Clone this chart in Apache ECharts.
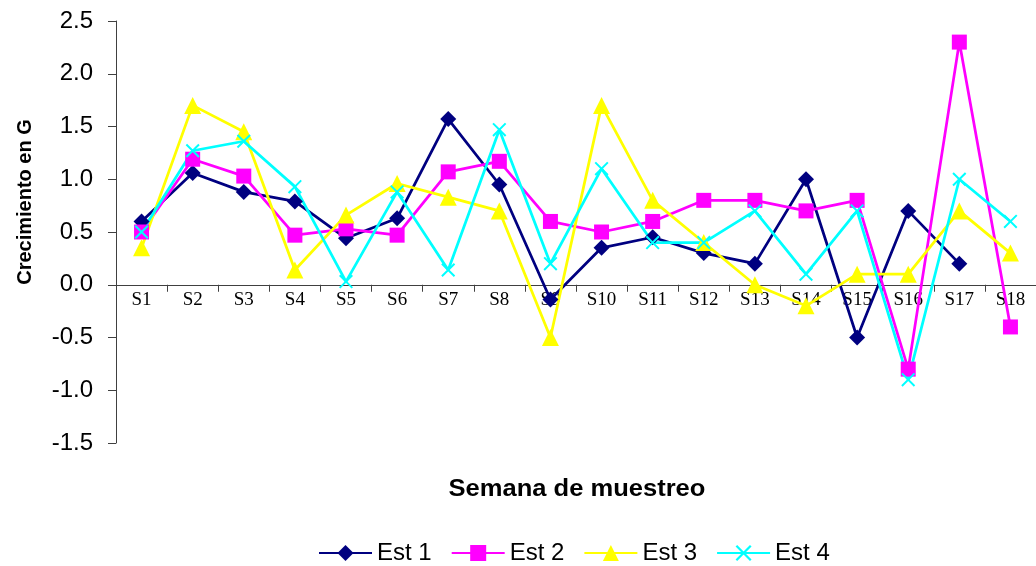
<!DOCTYPE html>
<html>
<head>
<meta charset="utf-8">
<script src="https://cdn.jsdelivr.net/npm/echarts@6/dist/echarts.min.js"></script>
<style>
html,body{margin:0;padding:0;background:#fff;}
#chart{width:1036px;height:566px;}
</style>
</head>
<body>
<div id="chart"></div>
<script>
var categories = ['S1','S2','S3','S4','S5','S6','S7','S8','S9','S10','S11','S12','S13','S14','S15','S16','S17','S18'];
var est1 = [0.6, 1.06, 0.88, 0.79, 0.44, 0.63, 1.57, 0.95, -0.14, 0.35, 0.45, 0.3, 0.2, 1.0, -0.5, 0.7, 0.2, null];
var est2 = [0.5, 1.19, 1.03, 0.47, 0.53, 0.47, 1.07, 1.17, 0.6, 0.5, 0.6, 0.8, 0.8, 0.7, 0.8, -0.8, 2.3, -0.4];
var est3 = [0.35, 1.7, 1.45, 0.14, 0.66, 0.96, 0.83, 0.7, -0.5, 1.7, 0.8, 0.4, 0.0, -0.2, 0.1, 0.1, 0.7, 0.3];
var est4 = [0.5, 1.27, 1.36, 0.93, 0.03, 0.88, 0.14, 1.47, 0.2, 1.1, 0.4, 0.4, 0.7, 0.1, 0.7, -0.9, 1.0, 0.6];
var seriesNames = ['Est 1', 'Est 2', 'Est 3', 'Est 4'];
var xTitle = 'Semana de muestreo';
var yTitle = 'Crecimiento en G';

var crossPath = 'path://M0,1L1,0L10,9L9,10Z M9,0L10,1L1,10L0,9Z';
var sans = '"Liberation Sans", Arial, sans-serif';
var serif = '"Liberation Serif", "Times New Roman", serif';

function mk(name, data, color, symbol, size) {
  return {
    name: name, type: 'line', data: data, connectNulls: false,
    symbol: symbol, symbolSize: size, showSymbol: true,
    lineStyle: { color: color, width: 2.75 },
    itemStyle: { color: color },
    emphasis: { disabled: true }
  };
}

var gridTop = 21, gridH = 422, yMin = -1.5, yMax = 2.5;
var zeroOffset = -gridH * (0 - yMin) / (yMax - yMin);

var chart = echarts.init(document.getElementById('chart'), null, { renderer: 'canvas' });
chart.setOption({
  animation: false,
  backgroundColor: '#ffffff',
  grid: { left: 116, top: gridTop, width: 923, height: gridH, containLabel: false },
  legend: {
    data: seriesNames,
    left: 318, top: 541, padding: 0,
    itemWidth: 53, itemHeight: 20, itemGap: 19,
    textStyle: { fontFamily: sans, fontSize: 24, color: '#000' }
  },
  xAxis: {
    type: 'category', data: categories, boundaryGap: true,
    position: 'bottom', offset: zeroOffset, z: 0,
    axisLine: { onZero: false, lineStyle: { color: '#404040', width: 1 } },
    axisTick: { show: true, length: 7, inside: false, lineStyle: { color: '#404040' } },
    axisLabel: { fontFamily: serif, fontSize: 19, color: '#000', margin: 6, interval: 0 },
    splitLine: { show: false }
  },
  yAxis: {
    type: 'value', min: yMin, max: yMax, interval: 0.5,
    axisLine: { show: true, lineStyle: { color: '#404040', width: 1 } },
    axisTick: { show: true, length: 8, inside: false, lineStyle: { color: '#404040' } },
    axisLabel: { fontFamily: sans, fontSize: 24, color: '#000', margin: 23,
      formatter: function (v) { return v.toFixed(1); } },
    splitLine: { show: false }
  },
  graphic: [
    { type: 'text', silent: true, x: 577, y: 490, scaleX: 1.11,
      style: { text: xTitle, fontFamily: sans, fontSize: 23, fontWeight: 'bold', fill: '#000',
        align: 'center', verticalAlign: 'middle' } },
    { type: 'text', silent: true, x: 25, y: 202, rotation: Math.PI / 2,
      style: { text: yTitle, fontFamily: sans, fontSize: 20, fontWeight: 'bold', fill: '#000',
        align: 'center', verticalAlign: 'middle' } }
  ],
  series: [
    mk(seriesNames[0], est1, '#000080', 'diamond', 16),
    mk(seriesNames[1], est2, '#FF00FF', 'rect', 15),
    mk(seriesNames[2], est3, '#FFFF00', 'triangle', 17),
    mk(seriesNames[3], est4, '#00FFFF', crossPath, 14)
  ]
});
</script>
</body>
</html>
